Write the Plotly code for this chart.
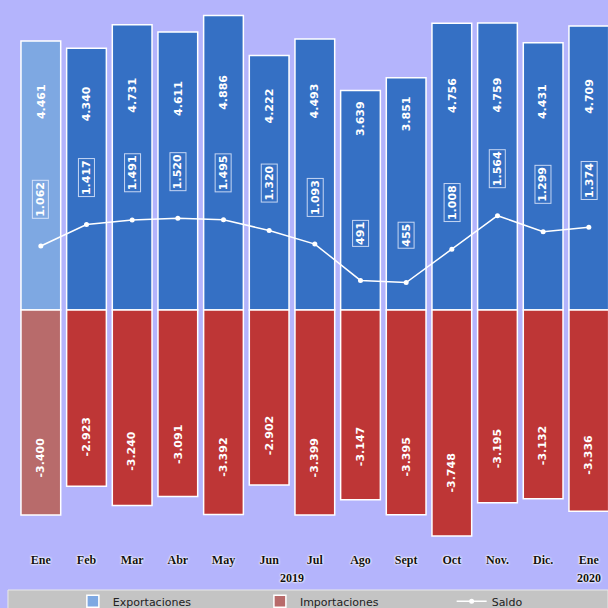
import plotly.graph_objects as go

months = ["Ene", "Feb", "Mar", "Abr", "May", "Jun", "Jul", "Ago", "Sept", "Oct", "Nov.", "Dic.", "Ene"]
exportaciones = [4461, 4340, 4731, 4611, 4886, 4222, 4493, 3639, 3851, 4756, 4759, 4431, 4709]
importaciones = [-3400, -2923, -3240, -3091, -3392, -2902, -3399, -3147, -3395, -3748, -3195, -3132, -3336]
saldo = [1062, 1417, 1491, 1520, 1495, 1320, 1093, 491, 455, 1008, 1564, 1299, 1374]
years = [("2019", 5.5), ("2020", 12)]

x = list(range(len(months)))


def fmt(v):
    return f"{v:,}".replace(",", ".")


blue = "#3570C4"
red = "#BE3636"
exp_colors = ["#7EA8E2"] + [blue] * (len(x) - 1)
imp_colors = ["#B86B6B"] + [red] * (len(x) - 1)

fig = go.Figure()
fig.add_trace(go.Bar(
    x=x, y=exportaciones, name="Exportaciones", legend="legend",
    marker=dict(color=exp_colors, line=dict(color="white", width=1.5)),
))
fig.add_trace(go.Bar(
    x=x, y=importaciones, name="Importaciones", legend="legend2",
    marker=dict(color=imp_colors, line=dict(color="white", width=1.5)),
))
fig.add_trace(go.Scatter(
    x=x, y=saldo, name="Saldo", mode="lines+markers", legend="legend3",
    line=dict(color="white", width=1.5),
    marker=dict(color="white", size=5),
))

label_font = dict(family="DejaVu Sans", size=11, color="white", weight="bold")
anns = []
for i in x:
    anns.append(dict(x=i, y=1900 + 0.35 * exportaciones[i], text=fmt(exportaciones[i]),
                     textangle=-90, showarrow=False, font=label_font))
    anns.append(dict(x=i, y=0.72 * importaciones[i], text=fmt(importaciones[i]),
                     textangle=-90, showarrow=False, font=label_font))
    anns.append(dict(x=i, y=saldo[i], yshift=47, text=fmt(saldo[i]),
                     textangle=-90, showarrow=False, font=label_font,
                     bordercolor="rgba(235,240,255,0.8)", borderwidth=1, borderpad=1))

glow = "white 0px 0px 2px, white 0px 0px 2px, white 0px 0px 3px"
for txt, xv in years:
    anns.append(dict(x=xv, xref="x", y=-0.071, yref="paper", yanchor="middle",
                     text=txt, showarrow=False,
                     font=dict(family="Liberation Serif", size=12, color="#111111",
                               weight="bold", shadow=glow)))

leg_font = dict(family="DejaVu Sans", size=11, color="#222222")
leg_common = dict(orientation="h", yref="container", y=0.011, yanchor="middle",
                  xanchor="left", bgcolor="rgba(0,0,0,0)", font=leg_font, itemwidth=30)

fig.update_layout(
    width=608, height=608,
    margin=dict(l=18, r=0, t=0, b=68, autoexpand=False),
    paper_bgcolor="#B4B4FC",
    plot_bgcolor="#B4B4FC",
    barmode="relative",
    bargap=0.13,
    showlegend=True,
    legend=dict(x=0.093, **leg_common),
    legend2=dict(x=0.41, **leg_common),
    legend3=dict(x=0.735, **leg_common),
    xaxis=dict(tickmode="array", tickvals=x, ticktext=months, range=[-0.5, 12.42],
               showgrid=False, zeroline=False, showline=False, ticks="",
               ticklabelstandoff=11,
               tickfont=dict(family="Liberation Serif", size=12, color="#111111",
                             weight="bold", shadow=glow)),
    yaxis=dict(range=[-3814, 5141], visible=False, showgrid=False, zeroline=False),
    annotations=anns,
    shapes=[dict(type="rect", xref="paper", yref="paper", x0=-0.017, x1=1.0,
                 y0=-0.0926, y1=-0.13, fillcolor="#C4C4C4",
                 line=dict(color="#E8E8E8", width=1), layer="below")],
    hovermode=False,
)

fig.write_html("out.html", config={"displayModeBar": False},
               post_script="document.body.style.margin='0';document.body.style.padding='0';")
